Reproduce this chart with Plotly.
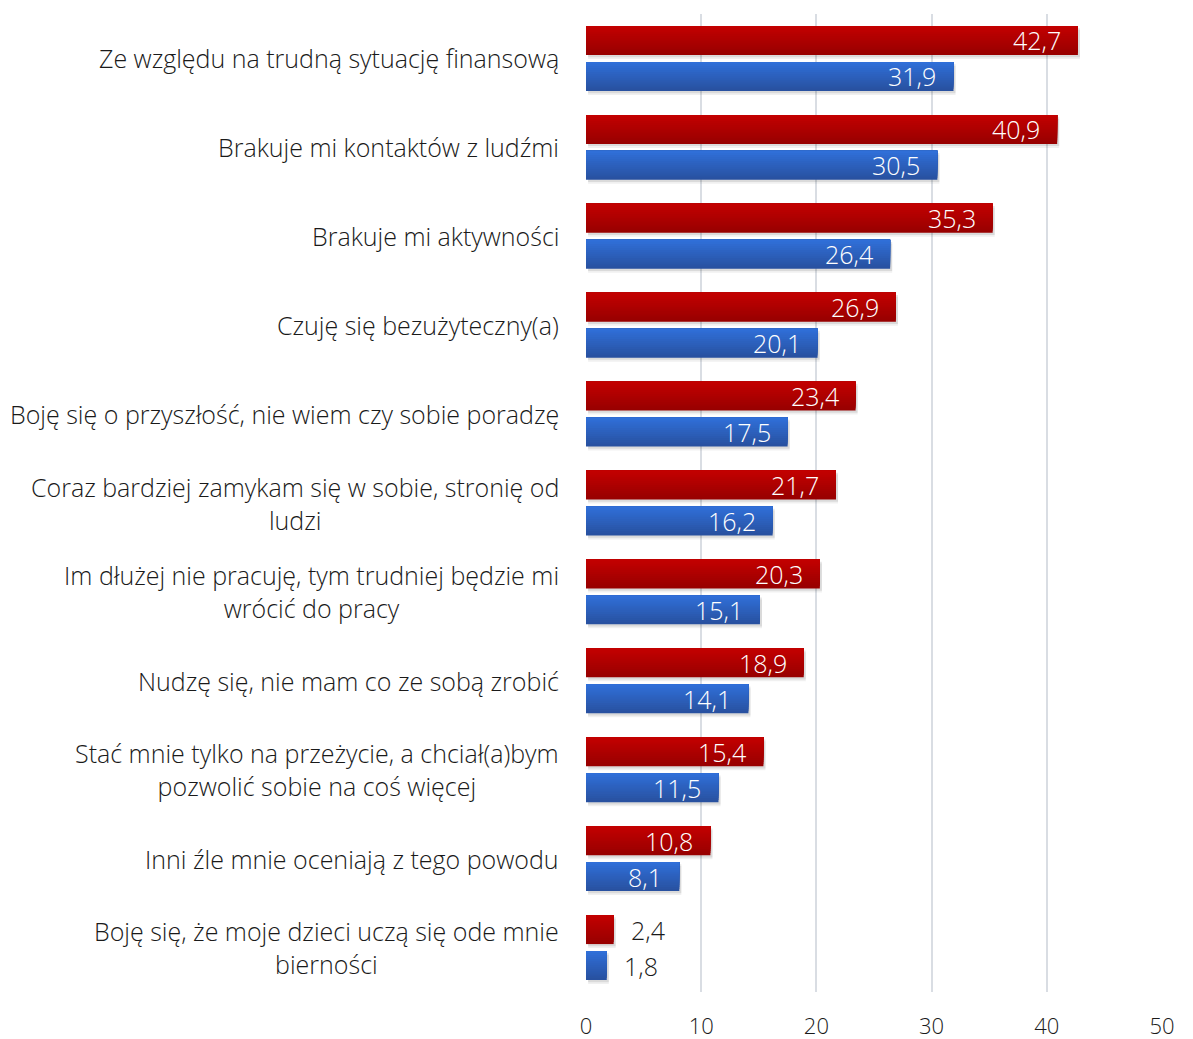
import plotly.graph_objects as go

# Survey answers (percent), two groups per answer
categories = [
    "Ze względu na trudną sytuację finansową",
    "Brakuje mi kontaktów z ludźmi",
    "Brakuje mi aktywności",
    "Czuję się bezużyteczny(a)",
    "Boję się o przyszłość, nie wiem czy sobie poradzę",
    "Coraz bardziej zamykam się w sobie, stronię od<br>ludzi",
    "Im dłużej nie pracuję, tym trudniej będzie mi<br>wrócić do pracy",
    "Nudzę się, nie mam co ze sobą zrobić",
    "Stać mnie tylko na przeżycie, a chciał(a)bym<br>pozwolić sobie na coś więcej",
    "Inni źle mnie oceniają z tego powodu",
    "Boję się, że moje dzieci uczą się ode mnie<br>bierności",
]
red_values = [42.7, 40.9, 35.3, 26.9, 23.4, 21.7, 20.3, 18.9, 15.4, 10.8, 2.4]
blue_values = [31.9, 30.5, 26.4, 20.1, 17.5, 16.2, 15.1, 14.1, 11.5, 8.1, 1.8]
x_ticks = [0, 10, 20, 30, 40, 50]

FONT = "Open Sans"
WEIGHT = 300
TEXT_COLOR = "#1a1a1a"
LABEL_SIZE = 25
TICK_SIZE = 22
BAR_W = 0.326
N_STRIPS = 14

series = [
    # values, offset of bar top from category centre, top colour, bottom colour, label shift
    (red_values, -0.365, (196, 0, 0), (150, 0, 0), 18),
    (blue_values, 0.039, (48, 112, 218), (40, 80, 158), -18),
]


def mix(c1, c2, t):
    return "rgb(%d,%d,%d)" % tuple(round(a + (b - a) * t) for a, b in zip(c1, c2))


fig = go.Figure()

# soft drop shadows under the bars
for values, off, _, _, _ in series:
    for dy, alpha in ((0.045, 0.06), (0.025, 0.09)):
        fig.add_trace(go.Bar(
            y=categories, x=values, orientation="h", base=0.18,
            offset=off + dy, width=BAR_W,
            marker=dict(color=f"rgba(0,0,0,{alpha})", line=dict(width=0)),
            hoverinfo="skip", showlegend=False,
        ))

# vertical gradient fill: full bar in the bottom colour, then lighter
# layers covering progressively smaller top portions
for values, off, top_c, bot_c, _ in series:
    for k in range(N_STRIPS):
        frac_top = 1 - (k + 0.5) / N_STRIPS
        color = mix(top_c, bot_c, frac_top)
        fig.add_trace(go.Bar(
            y=categories, x=values, orientation="h",
            offset=off, width=BAR_W * (1 - k / N_STRIPS),
            marker=dict(color=color, line=dict(width=0)),
            hoverinfo="skip", showlegend=False,
        ))

annotations = []
# value labels
for values, off, _, _, yshift in series:
    for cat, v in zip(categories, values):
        txt = f"{v:.1f}".replace(".", ",")
        inside = v >= 5
        annotations.append(dict(
            x=v, y=cat, xref="x", yref="y", text=txt, showarrow=False,
            xanchor="right" if inside else "left",
            xshift=-15 if inside else 15, yshift=yshift,
            font=dict(family=FONT, size=LABEL_SIZE, weight=WEIGHT,
                      color="white" if inside else TEXT_COLOR),
        ))

# category labels, lines centred within a right-aligned block
for cat in categories:
    annotations.append(dict(
        x=0, y=cat, xref="paper", yref="y", text=cat, showarrow=False,
        xanchor="right", yanchor="middle", align="center", xshift=-25,
        font=dict(family=FONT, size=LABEL_SIZE, weight=WEIGHT, color=TEXT_COLOR),
    ))

fig.update_layout(
    width=1193, height=1039,
    margin=dict(l=586, r=31, t=14, b=47, autoexpand=False),
    paper_bgcolor="white", plot_bgcolor="white",
    barmode="overlay",
    showlegend=False,
    annotations=annotations,
    font=dict(family=FONT, size=TICK_SIZE, weight=WEIGHT, color=TEXT_COLOR),
    xaxis=dict(
        range=[0, 50], tickvals=x_ticks, ticktext=[str(t) for t in x_ticks],
        showgrid=True, gridcolor="#d9dde3", gridwidth=1.5,
        zeroline=False, showline=False, ticks="",
        ticklabelstandoff=19, automargin=False,
        tickfont=dict(family=FONT, size=TICK_SIZE, weight=WEIGHT, color=TEXT_COLOR),
        fixedrange=True,
    ),
    yaxis=dict(
        categoryorder="array", categoryarray=categories,
        range=[len(categories) - 0.5, -0.5],
        showticklabels=False, showgrid=False, zeroline=False,
        showline=False, ticks="", fixedrange=True, automargin=False,
    ),
)

fig.write_html("out.html")
